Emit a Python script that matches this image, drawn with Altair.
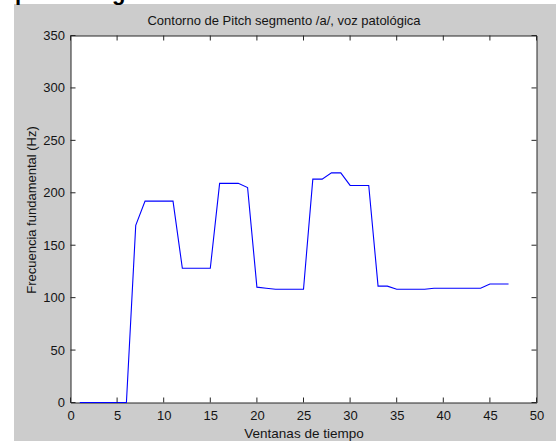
import altair as alt
import pandas as pd

# Pitch contour per analysis window (Hz)
ventanas = [1, 2, 3, 4, 5, 6, 7, 8, 9, 10, 11, 12, 13, 14, 15, 16, 17, 18, 19, 20,
            21, 22, 23, 24, 25, 26, 27, 28, 29, 30, 31, 32, 33, 34, 35, 36, 37, 38,
            39, 40, 41, 42, 43, 44, 45, 46, 47]
pitch = [0, 0, 0, 0, 0, 0, 169, 192, 192, 192, 192, 128, 128, 128, 128, 209, 209, 209,
         205, 110, 109, 108, 108, 108, 108, 213, 213, 219, 219, 207, 207, 207, 111, 111,
         108, 108, 108, 108, 109, 109, 109, 109, 109, 109, 113, 113, 113]

x_ticks = [0, 5, 10, 15, 20, 25, 30, 35, 40, 45, 50]
y_ticks = [0, 50, 100, 150, 200, 250, 300, 350]

titulo = "Contorno de Pitch segmento /a/, voz patológica"
x_titulo = "Ventanas de tiempo"
y_titulo = "Frecuencia fundamental (Hz)"

W, H = 466, 367
FONT = "Liberation Sans"
INK = "#141414"
BOX = "#262626"

df = pd.DataFrame({"ventana": ventanas, "f0": pitch})
dx = pd.DataFrame({"ventana": x_ticks})
dy = pd.DataFrame({"f0": y_ticks})

xs = alt.Scale(domain=[0, 50], nice=False, zero=False)
ys = alt.Scale(domain=[0, 350], nice=False, zero=False)

x_axis = alt.Axis(values=x_ticks, ticks=False, tickSize=0, domain=False, grid=False,
                  labelPadding=7, labelFont=FONT, labelFontSize=13, labelColor=INK,
                  title=x_titulo, titleFont=FONT, titleFontSize=13.5, titleFontWeight="normal",
                  titleColor=INK, titleX=W / 2, titleY=35, titleBaseline="alphabetic",
                  labelFlush=False)
y_axis = alt.Axis(values=y_ticks, ticks=False, tickSize=0, domain=False, grid=False,
                  labelPadding=6, labelFont=FONT, labelFontSize=13, labelColor=INK,
                  title=y_titulo, titleFont=FONT, titleFontSize=13, titleFontWeight="normal",
                  titleColor=INK, titleAngle=270, titleX=-35, titleY=174,
                  titleBaseline="alphabetic", titleAlign="center", labelFlush=False)

X = alt.X("ventana:Q", scale=xs, axis=x_axis)
Y = alt.Y("f0:Q", scale=ys, axis=y_axis)

# white page margins outside the figure frame
blank = pd.DataFrame({"k": [0]})
strip_left = alt.Chart(blank).mark_rect(color="white").encode(
    x=alt.value(-80), x2=alt.value(-56.5), y=alt.value(-40), y2=alt.value(420))
strip_top = alt.Chart(blank).mark_rect(color="white").encode(
    x=alt.value(-80), x2=alt.value(500), y=alt.value(-40), y2=alt.value(-31.5))

# heading letters from the page above, cut by the frame
frag_p = alt.Chart(pd.DataFrame({"s": ["p"]})).mark_text(
    font=FONT, fontSize=22, fontWeight="bold", color="black", align="left",
    baseline="alphabetic").encode(text="s:N", x=alt.value(-55.5), y=alt.value(-35.5))
frag_g = alt.Chart(pd.DataFrame({"s": ["g"]})).mark_text(
    font=FONT, fontSize=22, fontWeight="bold", color="black", align="left",
    baseline="alphabetic").encode(text="s:N", x=alt.value(41.5), y=alt.value(-35.5))

line = alt.Chart(df).mark_line(color="#0000ff", strokeWidth=1.1).encode(x=X, y=Y)

# inward-pointing ticks on all four sides of the box
tick_len = 5
tx_bottom = alt.Chart(dx).mark_rule(color=BOX, strokeWidth=1).encode(
    x=X, y=alt.value(H), y2=alt.value(H - tick_len))
tx_top = alt.Chart(dx).mark_rule(color=BOX, strokeWidth=1).encode(
    x=X, y=alt.value(0), y2=alt.value(tick_len))
ty_left = alt.Chart(dy).mark_rule(color=BOX, strokeWidth=1).encode(
    y=Y, x=alt.value(0), x2=alt.value(tick_len))
ty_right = alt.Chart(dy).mark_rule(color=BOX, strokeWidth=1).encode(
    y=Y, x=alt.value(W), x2=alt.value(W - tick_len))

title_mark = alt.Chart(pd.DataFrame({"s": [titulo]})).mark_text(
    font=FONT, fontSize=13, color=INK, align="center", baseline="alphabetic").encode(
    text="s:N", x=alt.value(213.5), y=alt.value(-10.5))

chart = alt.layer(
    strip_left, strip_top, frag_p, frag_g, line,
    tx_bottom, tx_top, ty_left, ty_right, title_mark,
).properties(
    width=W, height=H,
    autosize=alt.AutoSizeParams(type="none"),
    padding={"left": 70.5, "top": 35.5, "right": 19.5, "bottom": 38.5},
).configure(
    background="#cccccc",
).configure_view(
    fill="white", stroke=BOX, strokeWidth=1,
)

chart.save("out.html", embed_options={"renderer": "svg", "actions": False})
